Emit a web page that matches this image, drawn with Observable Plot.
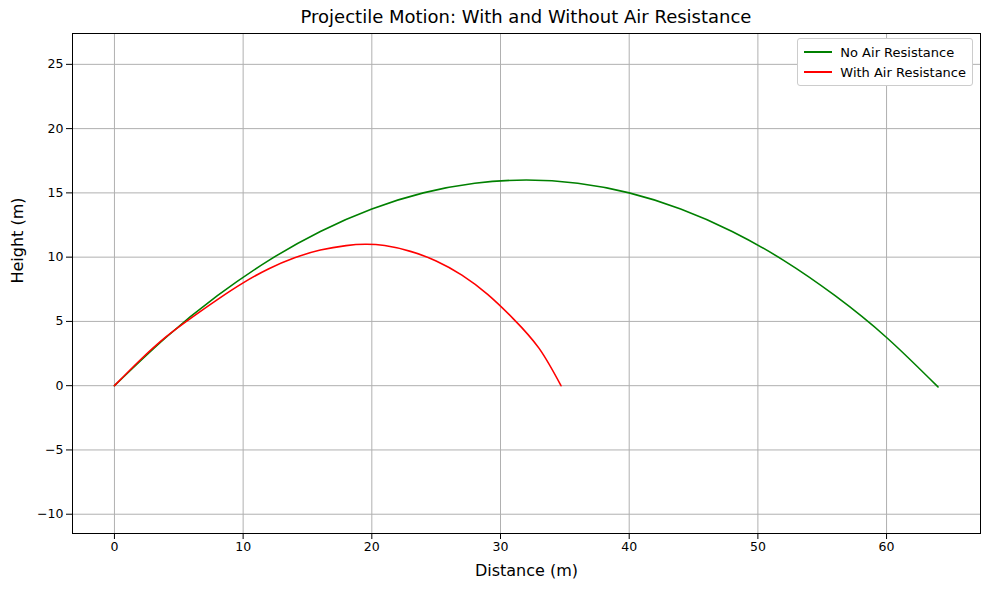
<!DOCTYPE html>
<html><head><meta charset="utf-8">
<script src="https://cdn.jsdelivr.net/npm/d3@7"></script>
<script src="https://cdn.jsdelivr.net/npm/@observablehq/plot@0.6"></script>
<style>
body{margin:0;font-family:"DejaVu Sans",sans-serif;}
#wrap{position:relative;width:989px;height:590px;}
#title{position:absolute;top:6px;left:72px;width:908px;text-align:center;font-size:18px;}
#legend{position:absolute;top:38px;right:16px;background:#fff;border:1px solid #ccc;border-radius:3px;padding:3px 6px;font-size:13px;}
#legend div{display:flex;align-items:center;height:20px;}
#legend span{display:inline-block;width:28px;height:2px;margin-right:8px;}
</style></head><body>
<div id="wrap"><div id="chart"></div><div id="title">Projectile Motion: With and Without Air Resistance</div>
<div id="legend"><div><span style="background:green"></span>No Air Resistance</div><div><span style="background:red"></span>With Air Resistance</div></div></div>
<script>
const noAirX = [0,4,8,12,16,20,24,28,32,36,40,44,48,52,56,60,64];
const noAirY = [0,3.75,7,9.75,12,13.75,15,15.75,16,15.75,15,13.75,12,9.75,7,3.75,-0.1];
const airX = [0,2,4,6,8,10,12,14,16,18,19.5,21,23,25,27,29,31,33,34.7];
const airY = [0,2.0,3.8,5.3,6.7,8.0,9.1,9.95,10.55,10.9,11.0,10.9,10.45,9.7,8.6,7.1,5.2,2.9,0];
const xTicks = [0,10,20,30,40,50,60];
const yTicks = [-10,-5,0,5,10,15,20,25];

const noAir = noAirX.map((x,i)=>({x, y:noAirY[i]}));
const air = airX.map((x,i)=>({x, y:airY[i]}));
const fmt = d => String(d).replace("-","\u2212");

const chart = Plot.plot({
  width: 989, height: 590,
  marginLeft: 72, marginRight: 9, marginTop: 33, marginBottom: 57,
  style: {fontFamily: "DejaVu Sans", fontSize: "12px", color: "#000"},
  x: {domain: [-3.26, 67.3], ticks: xTicks, tickFormat: fmt, label: null},
  y: {domain: [-11.5, 27.4], ticks: yTicks, tickFormat: fmt, label: null},
  marks: [
    Plot.gridX(xTicks, {stroke: "#b0b0b0", strokeOpacity: 1}),
    Plot.gridY(yTicks, {stroke: "#b0b0b0", strokeOpacity: 1}),
    Plot.axisX({ticks: xTicks, tickFormat: fmt, label: null, fontSize: 12.5}),
    Plot.axisY({ticks: yTicks, tickFormat: fmt, label: null, fontSize: 12.5}),
    Plot.frame({stroke: "#000"}),
    Plot.line(noAir, {x: "x", y: "y", stroke: "green", strokeWidth: 1.6, curve: "natural"}),
    Plot.line(air, {x: "x", y: "y", stroke: "red", strokeWidth: 1.6, curve: "natural"}),
    Plot.text(["Distance (m)"], {frameAnchor: "bottom", dy: 42, fontSize: 16}),
    Plot.text(["Height (m)"], {frameAnchor: "left", dx: -55, rotate: -90, fontSize: 16})
  ]
});
d3.select("#chart").append(() => chart);
</script></body></html>
